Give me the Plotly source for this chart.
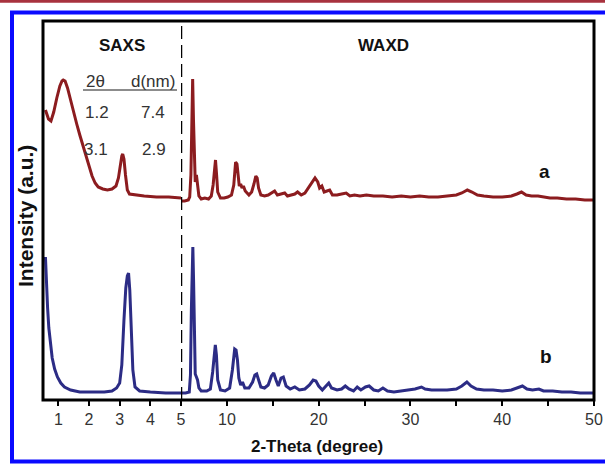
import plotly.graph_objects as go

# ---------------- data (2-theta in degrees, intensity in a.u.) ----------------
a_saxs_2t = [0.58, 0.63, 0.68, 0.76, 0.85, 0.95, 1.05, 1.12, 1.16, 1.22, 1.3, 1.4, 1.5, 1.6, 1.7,
             1.8, 1.9, 2.0, 2.1, 2.2, 2.3, 2.45, 2.6, 2.75, 2.88, 2.96, 3.02, 3.07, 3.1, 3.14,
             3.19, 3.25, 3.32, 3.5, 3.8, 4.2, 4.6, 5.0]
a_saxs_i = [290, 285, 281, 279, 288, 302, 314, 319, 320, 319, 312, 300, 287, 276, 265,
            255, 245, 234, 224, 217, 213, 211, 210, 211, 214, 222, 235, 244, 246, 241,
            225, 210, 206, 205, 204, 203, 203, 202]

a_waxd_2t = [5.0, 5.4, 5.8, 5.95, 6.08, 6.18, 6.27, 6.36, 6.45, 6.55, 6.68, 6.8, 6.95, 7.2, 7.6,
             8.0, 8.3, 8.5, 8.65, 8.76, 8.88, 9.0, 9.3, 9.7, 10.1, 10.5, 10.75, 10.95, 11.1,
             11.22, 11.35, 11.5, 11.65, 11.8, 12.0, 12.4, 12.7, 12.95, 13.15, 13.3, 13.45,
             13.7, 14.1, 14.5, 14.9, 15.2, 15.5, 15.9, 16.3, 16.6, 17.0, 17.4, 17.7, 18.1,
             18.5, 18.9, 19.3, 19.6, 19.9, 20.1, 20.35, 20.6, 20.9, 21.2, 21.5, 22.0, 22.5,
             23.0, 23.4, 23.9, 24.5, 25.2, 26.0, 27.0, 28.0, 29.0, 30.0, 31.0, 32.0, 33.0,
             34.0, 35.0, 35.6, 36.2, 36.7, 37.3, 38.0, 39.0, 40.0, 41.0, 41.6, 42.1, 42.6,
             43.2, 43.9, 44.4, 45.2, 46.0, 47.0, 48.0, 49.0, 50.0]
a_waxd_i = [199, 199, 200, 203, 225, 280, 321, 280, 230, 218, 225, 212, 204, 201, 202,
            201, 204, 215, 235, 240, 225, 208, 202, 202, 203, 205, 215, 238, 236,
            222, 214, 216, 212, 214, 209, 205, 208, 216, 224, 222, 212,
            205, 204, 205, 207, 209, 205, 206, 207, 204, 205, 206, 208, 205,
            207, 212, 218, 222, 218, 212, 214, 208, 209, 210, 205, 205, 206,
            207, 204, 205, 204, 205, 204, 204, 203, 204, 203, 204, 203, 203,
            204, 205, 207, 210, 208, 205, 204, 203, 203, 204, 206, 208, 205,
            204, 204, 203, 202, 202, 201, 201, 200, 200]

b_saxs_2t = [0.58, 0.6, 0.62, 0.65, 0.69, 0.74, 0.8, 0.88, 0.97, 1.08, 1.2, 1.4, 1.7, 2.1, 2.5,
             2.75, 2.9, 3.0, 3.07, 3.14, 3.2, 3.25, 3.29, 3.33, 3.38, 3.43, 3.5, 3.65, 4.0,
             4.5, 5.0]
b_saxs_i = [143, 125, 110, 92, 72, 56, 42, 31, 23, 17, 13, 10, 8, 8, 8,
            9, 12, 17, 35, 80, 112, 124, 127, 110, 70, 30, 13, 9, 8,
            7, 7]

b_waxd_2t = [5.0, 5.5, 5.9, 6.03, 6.13, 6.22, 6.29, 6.37, 6.45, 6.55, 6.68, 6.8, 6.95, 7.2, 7.8,
             8.2, 8.45, 8.62, 8.74, 8.86, 9.0, 9.3, 9.8, 10.3, 10.6, 10.85, 11.0, 11.15, 11.3,
             11.5, 11.7, 11.95, 12.4, 12.8, 13.05, 13.25, 13.45, 13.7, 14.1, 14.5, 14.85,
             15.1, 15.35, 15.6, 15.9, 16.15, 16.45, 16.9, 17.4, 17.9, 18.5, 19.0, 19.4, 19.7,
             20.0, 20.4, 20.8, 21.1, 21.4, 22.0, 22.5, 22.9, 23.3, 23.8, 24.2, 24.6, 25.1,
             25.5, 26.0, 26.5, 27.0, 27.5, 28.2, 29.0, 29.8, 30.5, 31.2, 31.6, 32.3, 33.0,
             34.0, 35.0, 35.6, 36.15, 36.6, 37.2, 38.0, 39.0, 40.0, 41.0, 41.7, 42.2, 42.7,
             43.3, 44.0, 44.5, 45.5, 46.5, 47.5, 48.5, 50.0]
b_waxd_i = [7, 7, 8, 25, 90, 140, 153, 120, 60, 26, 23, 20, 12, 9, 9,
            11, 28, 50, 55, 45, 20, 10, 9, 12, 30, 51, 50, 40, 22,
            15, 18, 12, 12, 18, 25, 26, 20, 13, 12, 15, 24,
            27, 20, 14, 22, 23, 14, 11, 13, 10, 11, 15, 20, 19,
            14, 10, 14, 17, 12, 10, 11, 14, 11, 9, 13, 10, 13,
            14, 10, 9, 12, 9, 8, 9, 10, 11, 13, 11, 10, 10,
            10, 11, 14, 18, 14, 11, 10, 10, 9, 10, 12, 14, 11,
            10, 11, 9, 9, 8, 8, 7, 7]

saxs_ticks = [1, 2, 3, 4, 5]
waxd_ticks = [10, 15, 20, 25, 30, 35, 40, 45, 50]
waxd_ticktext = ["10", "", "20", "", "30", "", "40", "", "50"]

# ---------------- layout helpers ----------------
W, H = 605, 464
L, R, T, B = 43, 594, 21, 400   # plot box in pixels
BREAK_PX = 181
split = (BREAK_PX - L) / (R - L)


def px(x, y):
    return (x - L) / (R - L), (B - y) / (B - T)


RED = "#8c1c1f"
BLUE = "#2c2c85"
FONT = "Arial, Liberation Sans, sans-serif"

fig = go.Figure()
fig.add_trace(go.Scatter(x=a_saxs_2t, y=a_saxs_i, mode="lines", xaxis="x", yaxis="y",
                         line=dict(color=RED, width=3)))
fig.add_trace(go.Scatter(x=b_saxs_2t, y=b_saxs_i, mode="lines", xaxis="x", yaxis="y",
                         line=dict(color=BLUE, width=3)))
fig.add_trace(go.Scatter(x=a_waxd_2t, y=a_waxd_i, mode="lines", xaxis="x2", yaxis="y2",
                         line=dict(color=RED, width=3)))
fig.add_trace(go.Scatter(x=b_waxd_2t, y=b_waxd_i, mode="lines", xaxis="x2", yaxis="y2",
                         line=dict(color=BLUE, width=3)))

tickfont = dict(family=FONT, size=16, color="#333333")
common_x = dict(showgrid=False, zeroline=False, showline=False, ticks="outside",
                ticklen=5, tickwidth=2, tickcolor="black", tickfont=tickfont,
                tickmode="array", automargin=False)
common_y = dict(showgrid=False, zeroline=False, showline=False, showticklabels=False,
                ticks="", range=[0, 379], automargin=False)

shapes = []
# red rule at top of the page
x0, _ = px(0, 0)
x1, _ = px(W, 0)
_, yr = px(0, 1.2)
shapes.append(dict(type="line", xref="paper", yref="paper", x0=x0, x1=x1, y0=yr, y1=yr,
                   line=dict(color="#a8323e", width=3)))
# blue frame (right edge falls just outside the page)
fx0, fy1 = px(12, 12.5)
fx1, fy0 = px(609, 461.5)
shapes.append(dict(type="rect", xref="paper", yref="paper", x0=fx0, x1=fx1, y0=fy0, y1=fy1,
                   line=dict(color="#0a0aff", width=4)))
# plot box
shapes.append(dict(type="rect", xref="paper", yref="paper", x0=0, x1=1, y0=0, y1=1,
                   line=dict(color="black", width=3), layer="above"))
# dashed break line
shapes.append(dict(type="line", xref="x2", yref="paper", x0=5, x1=5, y0=0, y1=1,
                   line=dict(color="black", width=2.5, dash="13px,6px"), layer="above"))
# underline in the inset table
ux0, uy = px(83, 90)
ux1, _ = px(177, 90)
shapes.append(dict(type="line", xref="paper", yref="paper", x0=ux0, x1=ux1, y0=uy, y1=uy,
                   line=dict(color="#666666", width=1.5)))

annotations = []


def add_text(text, x, y, size=15, bold=False, color="#111111", angle=0):
    ax, ay = px(x, y)
    annotations.append(dict(text=f"<b>{text}</b>" if bold else text, x=ax, y=ay,
                            xref="paper", yref="paper", showarrow=False,
                            xanchor="center", yanchor="middle", textangle=angle,
                            font=dict(family=FONT, size=size, color=color)))


add_text("SAXS", 122, 45, 17, True)
add_text("WAXD", 383, 45, 17, True)
add_text("2θ", 95, 81, 17, False, "#333333")
add_text("d(nm)", 153, 81, 17, False, "#333333")
add_text("1.2", 97, 113, 17, False, "#333333")
add_text("7.4", 153, 113, 17, False, "#333333")
add_text("3.1", 96, 149, 17, False, "#333333")
add_text("2.9", 154, 149, 17, False, "#333333")
add_text("a", 544, 172, 19, True)
add_text("b", 546, 356, 19, True)
add_text("2-Theta (degree)", 317, 446, 17, True)
add_text("Intensity (a.u.)", 25, 216, 21, True, angle=-90)

fig.update_layout(
    width=W, height=H,
    margin=dict(l=L, r=W - R, t=T, b=H - B, pad=0, autoexpand=False),
    paper_bgcolor="white", plot_bgcolor="white",
    showlegend=False,
    xaxis=dict(domain=[0, split], range=[0.5, 5], tickvals=saxs_ticks,
               ticktext=[str(v) for v in saxs_ticks], anchor="y", **common_x),
    xaxis2=dict(domain=[split, 1], range=[5, 50], tickvals=waxd_ticks,
                ticktext=waxd_ticktext, anchor="y2", **common_x),
    yaxis=dict(domain=[0, 1], anchor="x", **common_y),
    yaxis2=dict(domain=[0, 1], anchor="x2", matches="y", **common_y),
    shapes=shapes,
    annotations=annotations,
)

fig.write_html("out.html", config={"displayModeBar": False},
               post_script="document.body.style.margin='0';document.body.style.overflow='hidden';")
